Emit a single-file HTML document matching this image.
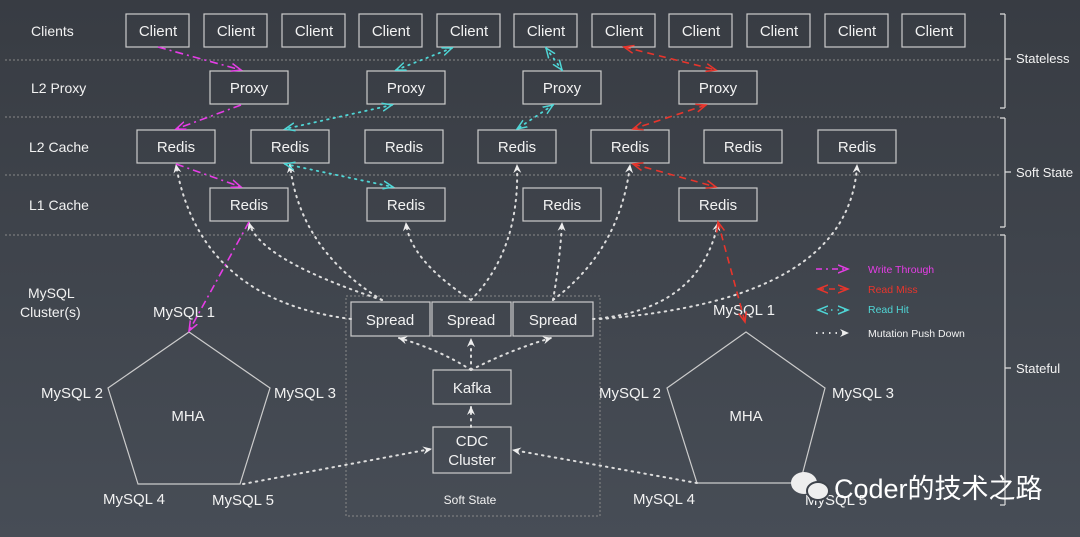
<!DOCTYPE html>
<html><head><style>
html,body{margin:0;padding:0;width:1080px;height:537px;overflow:hidden;background:#3d424a}
svg{display:block}
text{font-family:"Liberation Sans","Noto Sans CJK SC",sans-serif;fill:#f2f2f2}
</style></head><body>
<svg width="1080" height="537" viewBox="0 0 1080 537">
<defs>
<linearGradient id="bg" x1="0" y1="0" x2="0" y2="1"><stop offset="0" stop-color="#383c43"/><stop offset="1" stop-color="#474d56"/></linearGradient>
<marker id="aw" markerWidth="10" markerHeight="10" refX="8" refY="5" orient="auto" markerUnits="userSpaceOnUse"><path d="M0,1 L9,5 L0,9 L3,5z" fill="#eee"/></marker>
<marker id="am" markerWidth="12" markerHeight="10" refX="10" refY="5" orient="auto-start-reverse" markerUnits="userSpaceOnUse"><path d="M0,1 L10,5 L0,9" fill="none" stroke="#e63de6" stroke-width="1.5"/></marker>
<marker id="ar" markerWidth="12" markerHeight="10" refX="10" refY="5" orient="auto-start-reverse" markerUnits="userSpaceOnUse"><path d="M0,1 L10,5 L0,9" fill="none" stroke="#e8352c" stroke-width="1.5"/></marker>
<marker id="ac" markerWidth="12" markerHeight="10" refX="10" refY="5" orient="auto-start-reverse" markerUnits="userSpaceOnUse"><path d="M0,1 L10,5 L0,9" fill="none" stroke="#4fd6d6" stroke-width="1.5"/></marker>
</defs>
<rect width="1080" height="537" fill="url(#bg)"/>
<g stroke="#888" stroke-width="1" stroke-dasharray="2,2">
<line x1="5" y1="60" x2="1000" y2="60"/><line x1="5" y1="117" x2="1000" y2="117"/>
<line x1="5" y1="175" x2="1000" y2="175"/><line x1="5" y1="235" x2="1000" y2="235"/>
<rect x="346" y="296" width="254" height="220" fill="none"/>
</g>
<g stroke="#ddd" stroke-width="1.2" fill="none">
<path d="M1005,14 V108 M1005,118 V227 M1005,235 V505 M1000,14h5 M1000,108h5 M1000,118h5 M1000,227h5 M1000,235h5 M1000,505h5 M1005,59h6 M1005,172h6 M1005,368h6"/>
</g>
<g font-size="14">
<text x="31" y="36">Clients</text><text x="31" y="93">L2 Proxy</text>
<text x="29" y="152">L2 Cache</text><text x="29" y="210">L1 Cache</text>
<text x="28" y="298">MySQL</text><text x="20" y="317">Cluster(s)</text>
<text x="1016" y="63" font-size="13">Stateless</text>
<text x="1016" y="177" font-size="13">Soft State</text>
<text x="1016" y="373" font-size="13">Stateful</text>
</g>
<g fill="none" stroke="#ccc" stroke-width="1.2">
<rect x="126" y="14" width="63" height="33"/><rect x="204" y="14" width="63" height="33"/><rect x="282" y="14" width="63" height="33"/><rect x="359" y="14" width="63" height="33"/><rect x="437" y="14" width="63" height="33"/><rect x="514" y="14" width="63" height="33"/><rect x="592" y="14" width="63" height="33"/><rect x="669" y="14" width="63" height="33"/><rect x="747" y="14" width="63" height="33"/><rect x="825" y="14" width="63" height="33"/><rect x="902" y="14" width="63" height="33"/>
<rect x="210" y="71" width="78" height="33"/><rect x="367" y="71" width="78" height="33"/><rect x="523" y="71" width="78" height="33"/><rect x="679" y="71" width="78" height="33"/>
<rect x="137" y="130" width="78" height="33"/><rect x="251" y="130" width="78" height="33"/><rect x="365" y="130" width="78" height="33"/><rect x="478" y="130" width="78" height="33"/><rect x="591" y="130" width="78" height="33"/><rect x="704" y="130" width="78" height="33"/><rect x="818" y="130" width="78" height="33"/>
<rect x="210" y="188" width="78" height="33"/><rect x="367" y="188" width="78" height="33"/><rect x="523" y="188" width="78" height="33"/><rect x="679" y="188" width="78" height="33"/>
<rect x="351" y="302" width="79" height="34"/><rect x="432" y="302" width="79" height="34"/><rect x="513" y="302" width="80" height="34"/>
<rect x="433" y="370" width="78" height="34"/><rect x="433" y="427" width="78" height="46"/>
<polygon points="189,332 270,388 240,484 138,484 108,388"/>
<polygon points="746,332 825,388 800,483 697,483 667,388"/>
</g>
<g font-size="15" text-anchor="middle">
<text x="158" y="36">Client</text><text x="236" y="36">Client</text><text x="314" y="36">Client</text><text x="391" y="36">Client</text><text x="469" y="36">Client</text><text x="546" y="36">Client</text><text x="624" y="36">Client</text><text x="701" y="36">Client</text><text x="779" y="36">Client</text><text x="857" y="36">Client</text><text x="934" y="36">Client</text>
<text x="249" y="93">Proxy</text><text x="406" y="93">Proxy</text><text x="562" y="93">Proxy</text><text x="718" y="93">Proxy</text>
<text x="176" y="152">Redis</text><text x="290" y="152">Redis</text><text x="404" y="152">Redis</text><text x="517" y="152">Redis</text><text x="630" y="152">Redis</text><text x="743" y="152">Redis</text><text x="857" y="152">Redis</text>
<text x="249" y="210">Redis</text><text x="406" y="210">Redis</text><text x="562" y="210">Redis</text><text x="718" y="210">Redis</text>
<text x="390" y="325">Spread</text><text x="471" y="325">Spread</text><text x="553" y="325">Spread</text>
<text x="472" y="393">Kafka</text><text x="472" y="446">CDC</text><text x="472" y="465">Cluster</text>
<text x="470" y="504" font-size="12">Soft State</text>
<text x="184" y="317">MySQL 1</text><text x="72" y="398">MySQL 2</text><text x="305" y="398">MySQL 3</text>
<text x="134" y="504">MySQL 4</text><text x="243" y="505">MySQL 5</text><text x="188" y="421">MHA</text>
<text x="744" y="315">MySQL 1</text><text x="630" y="398">MySQL 2</text><text x="863" y="398">MySQL 3</text>
<text x="664" y="504">MySQL 4</text><text x="836" y="505">MySQL 5</text><text x="746" y="421">MHA</text>
</g>
<g fill="none" stroke="#ddd" stroke-width="2" stroke-dasharray="1.5,5" stroke-linecap="round" marker-end="url(#aw)">
<path d="M351,319 Q200,300 176,165"/>
<path d="M382,300 Q300,250 290,165"/>
<path d="M382,300 Q260,260 249,223"/>
<path d="M471,300 Q410,260 406,223"/>
<path d="M471,300 Q520,250 517,165"/>
<path d="M553,300 Q560,260 562,223"/>
<path d="M553,300 Q620,250 630,165"/>
<path d="M593,319 Q700,310 718,223"/>
<path d="M600,319 Q850,300 857,165"/>
<path d="M471,370 Q440,350 399,338"/>
<path d="M471,370 L471,339"/>
<path d="M471,370 Q510,350 551,338"/>
<path d="M471,427 L471,407"/>
<path d="M243,484 L431,449"/>
<path d="M697,483 L513,450"/>
</g>
<g fill="none" stroke="#e63de6" stroke-width="1.6" stroke-dasharray="8,4,2,4" marker-end="url(#am)">
<path d="M158,47 L241,70"/><path d="M241,105 L176,129"/><path d="M176,164 L241,187"/><path d="M249,222 L189,331"/>
</g>
<g fill="none" stroke="#e8352c" stroke-width="1.6" stroke-dasharray="7,5" marker-start="url(#ar)" marker-end="url(#ar)">
<path d="M624,47 L716,70"/><path d="M706,105 L633,129"/><path d="M633,164 L716,187"/><path d="M718,222 L745,322"/>
</g>
<g fill="none" stroke="#4fd6d6" stroke-width="1.8" stroke-dasharray="1.5,5" stroke-linecap="round" marker-start="url(#ac)" marker-end="url(#ac)">
<path d="M452,48 L396,70"/><path d="M392,105 L285,129"/><path d="M285,164 L393,187"/><path d="M546,48 L562,70"/><path d="M553,105 L517,129"/>
</g>
<g stroke-width="1.6" fill="none">
<line x1="816" y1="269" x2="848" y2="269" stroke="#e63de6" stroke-dasharray="6,4,2,4" marker-end="url(#am)"/>
<line x1="818" y1="289" x2="848" y2="289" stroke="#e8352c" stroke-dasharray="6,5" marker-start="url(#ar)" marker-end="url(#ar)"/>
<line x1="818" y1="310" x2="848" y2="310" stroke="#4fd6d6" stroke-dasharray="1.5,5" marker-start="url(#ac)" marker-end="url(#ac)"/>
<line x1="816" y1="333" x2="848" y2="333" stroke="#ddd" stroke-width="2" stroke-dasharray="1.5,5" marker-end="url(#aw)"/>
</g>
<g font-size="10.5">
<text x="868" y="273" style="fill:#e63de6">Write Through</text>
<text x="868" y="293" style="fill:#e8352c">Read Miss</text>
<text x="868" y="313" style="fill:#4fd6d6">Read Hit</text>
<text x="868" y="337">Mutation Push Down</text>
</g>
<g fill="#eee">
<ellipse cx="804" cy="483" rx="13" ry="11"/><ellipse cx="818" cy="491" rx="11" ry="9" stroke="#3d424a" stroke-width="2"/>
</g>
<text x="834" y="498" font-size="27" style="fill:#fff">Coder的技术之路</text>
</svg>
</body></html>
